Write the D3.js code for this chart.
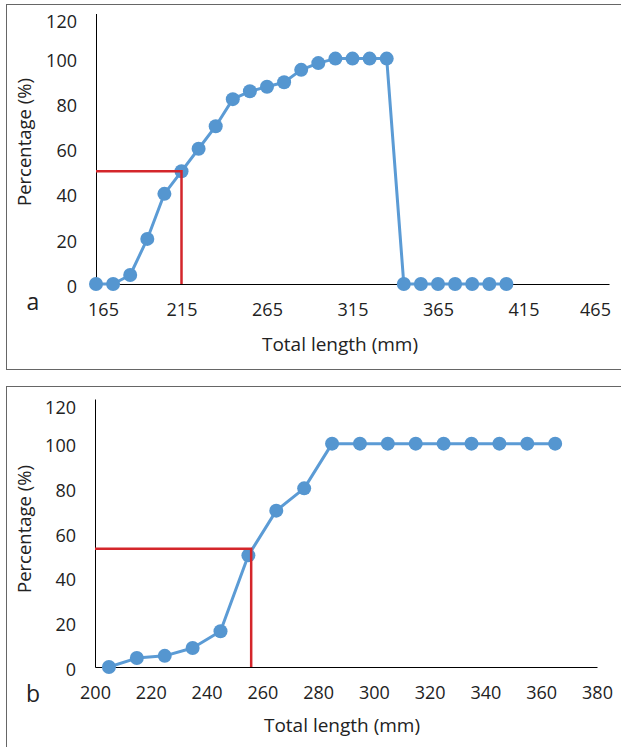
<!DOCTYPE html>
<html>
<head>
<meta charset="utf-8">
<script src="https://cdn.jsdelivr.net/npm/d3@7"></script>
<style>
  body { margin: 0; background: #fff; }
  svg text { font-family: "Open Sans", "Noto Sans", sans-serif; fill: #222; }
</style>
</head>
<body>
<script>
// Panel a data (total length in mm, cumulative percentage)
var lengthA = [165, 175, 185, 195, 205, 215, 225, 235, 245, 255, 265, 275, 285, 295,
               305, 315, 325, 335, 345, 355, 365, 375, 385, 395, 405];
var percentA = [0, 0, 4, 20, 40, 50, 60, 70, 82, 85.5, 87.5, 89.5, 95, 98,
                100, 100, 100, 100, 0, 0, 0, 0, 0, 0, 0];
var xTicksA = [165, 215, 265, 315, 365, 415, 465];
var medianA = { x: 215, y: 50 };

// Panel b data
var lengthB = [205, 215, 225, 235, 245, 255, 265, 275, 285, 295, 305, 315, 325, 335, 345, 355, 365];
var percentB = [0, 4, 5, 8.5, 16, 50, 70, 80, 100, 100, 100, 100, 100, 100, 100, 100, 100];
var xTicksB = [200, 220, 240, 260, 280, 300, 320, 340, 360, 380];
var medianB = { x: 256, y: 53 };

var yTicks = [0, 20, 40, 60, 80, 100, 120];

var svg = d3.select("body").append("svg")
  .attr("width", 621)
  .attr("height", 747);

// soft edge for the markers
var defs = svg.append("defs");
defs.append("filter").attr("id", "soft")
  .append("feGaussianBlur").attr("stdDeviation", 0.7);

function drawPanel(cfg) {
  var g = svg.append("g");

  // panel frame
  g.append("rect")
    .attr("x", cfg.box[0] + 0.5)
    .attr("y", cfg.box[1] + 0.5)
    .attr("width", cfg.box[2])
    .attr("height", cfg.box[3])
    .attr("fill", "none")
    .attr("stroke", "#666")
    .attr("stroke-width", 1);

  var xScale = d3.scaleLinear().domain(cfg.xDomain).range([cfg.left, cfg.right]);
  var yScale = d3.scaleLinear().domain([0, 120]).range([cfg.bottom, cfg.top]);

  // axes lines
  var xAxis = d3.axisBottom(xScale).tickValues(cfg.xTicks).tickSize(0).tickPadding(0);
  var yAxis = d3.axisLeft(yScale).tickValues(yTicks).tickSize(0);

  var gx = g.append("g")
    .attr("transform", `translate(0, ${cfg.bottom})`)
    .call(xAxis);
  gx.select(".domain").attr("stroke", "#000");
  gx.selectAll(".tick text")
    .attr("font-size", 18)
    .attr("fill", "#222")
    .attr("dy", null)
    .attr("y", 32)
    .attr("dx", (d, i) => cfg.xNudge[i] || 0);

  var gy = g.append("g")
    .attr("transform", `translate(${cfg.left}, 0)`)
    .call(yAxis);
  gy.select(".domain").attr("stroke", "#000");
  gy.selectAll(".tick text")
    .attr("font-size", 18)
    .attr("fill", "#222")
    .attr("x", -19)
    .attr("dy", d => d === 120 ? "0.8em" : "0.45em");

  // line + markers
  var pts = cfg.xs.map((x, i) => [x, cfg.ys[i]]);
  var line = d3.line().x(d => xScale(d[0])).y(d => yScale(d[1]));

  g.append("path")
    .datum(pts)
    .attr("d", line)
    .attr("fill", "none")
    .attr("stroke", "#5b9bd5")
    .attr("stroke-width", 3)
    .attr("stroke-linejoin", "round");

  g.selectAll(".dot")
    .data(pts)
    .enter()
    .append("circle")
    .attr("class", "dot")
    .attr("cx", d => xScale(d[0]))
    .attr("cy", d => yScale(d[1]))
    .attr("r", 7)
    .attr("fill", "#5596d0")
    .attr("filter", "url(#soft)");

  // median guide lines
  g.append("path")
    .attr("d", d3.line()([
      [xScale(cfg.xDomain[0]), yScale(cfg.median.y)],
      [xScale(cfg.median.x), yScale(cfg.median.y)],
      [xScale(cfg.median.x), yScale(0)]
    ]))
    .attr("fill", "none")
    .attr("stroke", "#d4262b")
    .attr("stroke-width", 2.5);

  // axis titles
  g.append("text")
    .attr("transform", `translate(${cfg.yTitle[0]}, ${cfg.yTitle[1]}) rotate(-90)`)
    .attr("text-anchor", "middle")
    .attr("dy", "0.35em")
    .attr("font-size", 18.5)
    .text("Percentage (%)");

  g.append("text")
    .attr("x", cfg.xTitle[0])
    .attr("y", cfg.xTitle[1])
    .attr("text-anchor", "middle")
    .attr("dy", "0.35em")
    .attr("font-size", 19)
    .text("Total length (mm)");

  g.append("text")
    .attr("x", cfg.tag[0])
    .attr("y", cfg.tag[1])
    .attr("text-anchor", "middle")
    .attr("dy", "0.35em")
    .attr("font-size", 23)
    .attr("fill", "#111")
    .text(cfg.label);
}

drawPanel({
  label: "a",
  box: [6, 4, 630, 365],
  xs: lengthA, ys: percentA,
  xDomain: [165, 465], xTicks: xTicksA, xNudge: [7, 0, 0, 0, 0, 0, -14],
  left: 96, right: 609, top: 13.5, bottom: 284,
  median: medianA,
  yTitle: [25, 142], xTitle: [340, 344], tag: [33, 302]
});

drawPanel({
  label: "b",
  box: [6, 386, 630, 380],
  xs: lengthB, ys: percentB,
  xDomain: [200, 380], xTicks: xTicksB, xNudge: [],
  left: 95, right: 597, top: 399, bottom: 667,
  median: medianB,
  yTitle: [25, 529], xTitle: [342, 725], tag: [33, 694]
});
</script>
</body>
</html>
